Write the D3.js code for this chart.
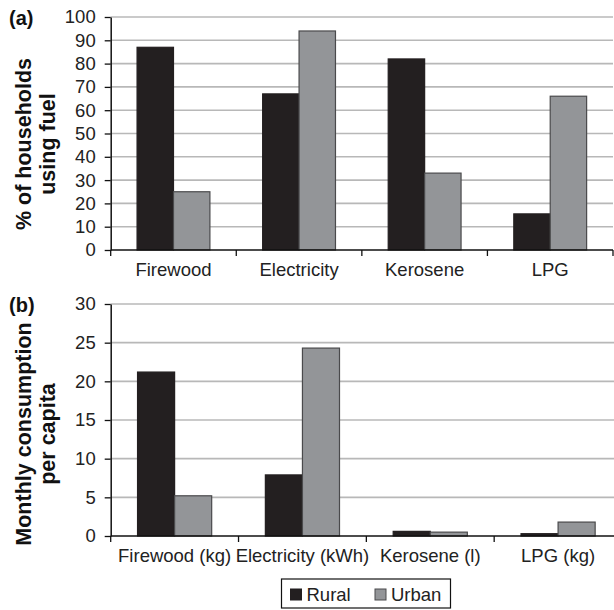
<!DOCTYPE html>
<html>
<head>
<meta charset="utf-8">
<script src="https://cdn.jsdelivr.net/npm/d3@7/dist/d3.min.js"></script>
<style>
  html, body { margin: 0; padding: 0; background: #fff; }
  svg { display: block; font-family: "Liberation Sans", Arial, Helvetica, sans-serif; }
</style>
</head>
<body>
<svg id="chart" width="614" height="610"></svg>
<script>
// Panel (a): share of households using each fuel
const topCategories = ["Firewood", "Electricity", "Kerosene", "LPG"];
const topRural = [87, 67, 82, 15.5];
const topUrban = [25, 94, 33, 66];
const topTicks = [0, 10, 20, 30, 40, 50, 60, 70, 80, 90, 100];

// Panel (b): monthly consumption per capita
const bottomCategories = ["Firewood (kg)", "Electricity (kWh)", "Kerosene (l)", "LPG (kg)"];
const bottomRural = [21.2, 7.9, 0.6, 0.3];
const bottomUrban = [5.2, 24.3, 0.5, 1.8];
const bottomTicks = [0, 5, 10, 15, 20, 25, 30];

const seriesNames = ["Rural", "Urban"];
const colors = { Rural: "#231f20", Urban: "#939598" };
const strokes = { Rural: "#231f20", Urban: "#4a4a4c" };

const svg = d3.select("#chart");

function panel(opts) {
  const { cats, rural, urban, ticks, yMax, left, right, top, bottom, tag, title } = opts;
  const g = svg.append("g");

  const x = d3.scaleBand().domain(cats).range([left, right]).paddingInner(0).paddingOuter(0);
  const off = x.bandwidth() * 0.21;
  const xs = d3.scaleBand().domain(seriesNames).range([off, x.bandwidth() - off]);
  const y = d3.scaleLinear().domain([0, yMax]).range([bottom, top]);

  // gridlines
  g.append("g").selectAll("line").data(ticks.filter(t => t > 0)).join("line")
    .attr("x1", left).attr("x2", right)
    .attr("y1", d => y(d)).attr("y2", d => y(d))
    .attr("stroke", "#b8b8b8").attr("stroke-width", 1.6);

  // bars
  const rows = cats.map((c, i) => ({ cat: c, Rural: rural[i], Urban: urban[i] }));
  g.append("g").selectAll("g").data(rows).join("g")
    .attr("transform", d => `translate(${x(d.cat)},0)`)
    .selectAll("rect")
    .data(d => seriesNames.map(s => ({ s, v: d[s] })))
    .join("rect")
    .attr("x", d => xs(d.s))
    .attr("width", xs.bandwidth())
    .attr("y", d => y(d.v))
    .attr("height", d => y(0) - y(d.v))
    .attr("fill", d => colors[d.s])
    .attr("stroke", d => strokes[d.s])
    .attr("stroke-width", 1.2);

  // y axis
  const yAxis = d3.axisLeft(y).tickValues(ticks).tickSize(6).tickSizeOuter(0).tickPadding(9);
  const ya = g.append("g").attr("transform", `translate(${left},0)`).call(yAxis);
  ya.select(".domain").attr("stroke", "#111").attr("stroke-width", 1.5);
  ya.selectAll(".tick line").attr("stroke", "#111").attr("stroke-width", 1.3);
  ya.selectAll(".tick text").attr("font-size", 18.5).attr("fill", "#222")
    .attr("font-family", "Liberation Sans, Arial, sans-serif");

  // x axis: baseline with ticks at category boundaries
  const xa = g.append("g");
  xa.append("line").attr("x1", left).attr("x2", right).attr("y1", y(0)).attr("y2", y(0))
    .attr("stroke", "#111").attr("stroke-width", 1.5);
  const bounds = cats.map(c => x(c)).concat([right]);
  xa.selectAll("line.t").data(bounds).join("line").attr("class", "t")
    .attr("x1", d => d).attr("x2", d => d)
    .attr("y1", y(0)).attr("y2", y(0) + 6)
    .attr("stroke", "#111").attr("stroke-width", 1.3);
  xa.selectAll("text").data(cats).join("text")
    .attr("x", d => x(d) + x.bandwidth() / 2)
    .attr("y", y(0) + 26)
    .attr("text-anchor", "middle")
    .attr("font-size", 18.5).attr("fill", "#222")
    .text(d => d);

  // panel tag
  svg.append("text").attr("x", 9).attr("y", top + 8)
    .attr("font-size", 20).attr("font-weight", "bold").attr("fill", "#111")
    .text(tag);

  // y title, two lines rotated
  const cy = opts.titleY;
  const t = svg.append("text")
    .attr("transform", `translate(31,${cy}) rotate(-90)`)
    .attr("text-anchor", "middle")
    .attr("font-size", 21.5).attr("font-weight", "bold").attr("fill", "#111");
  t.append("tspan").attr("x", 0).attr("dy", 0).text(title[0]);
  t.append("tspan").attr("x", 0).attr("dy", 24).text(title[1]);
}

panel({
  cats: topCategories, rural: topRural, urban: topUrban, ticks: topTicks, yMax: 100,
  left: 110.7, right: 613, top: 17, bottom: 250, tag: "(a)",
  title: ["% of households", "using fuel"], titleY: 144
});

panel({
  cats: bottomCategories, rural: bottomRural, urban: bottomUrban, ticks: bottomTicks, yMax: 30,
  left: 110.7, right: 622, top: 304, bottom: 536, tag: "(b)",
  title: ["Monthly consumption", "per capita"], titleY: 434
});

// legend
const lg = svg.append("g").attr("transform", "translate(281.5,579)");
lg.append("rect").attr("width", 169).attr("height", 29)
  .attr("fill", "#fff").attr("stroke", "#111").attr("stroke-width", 1.2);
const items = lg.selectAll("g.item").data(seriesNames).join("g").attr("class", "item")
  .attr("transform", (d, i) => `translate(${i === 0 ? 9 : 93.5},0)`);
items.append("rect").attr("y", 10).attr("width", 11).attr("height", 11)
  .attr("fill", d => colors[d]).attr("stroke", d => strokes[d]).attr("stroke-width", 1);
items.append("text").attr("x", 16).attr("y", 21.5)
  .attr("font-size", 18.5).attr("fill", "#222").text(d => d);
</script>
</body>
</html>
